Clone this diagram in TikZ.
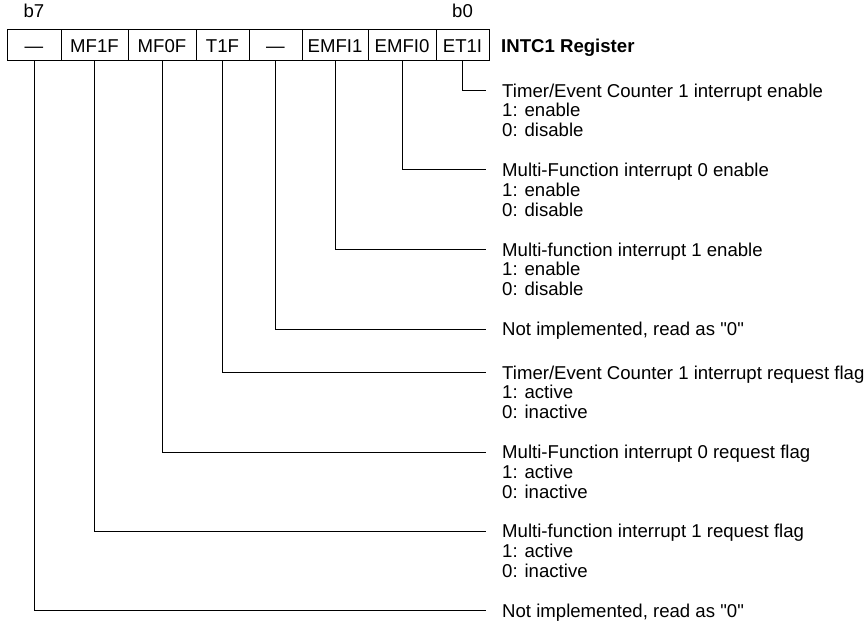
\documentclass[tikz,border=0pt]{standalone}
\usepackage{fontspec}
\setmainfont{Liberation Sans}
\begin{document}
\begin{tikzpicture}[x=1pt,y=-1pt,
  every node/.style={font=\fontsize{18.6}{19.7}\selectfont, inner sep=0pt},
  cell/.style={draw, line width=1pt, minimum height=31pt, text height=13.3pt, text depth=0pt, anchor=center},
  ttl/.style={anchor=west, text height=13.3pt, text depth=0pt},
  sub/.style={anchor=base west},
  conn/.style={line width=1pt}
]
\useasboundingbox (0,0) rectangle (868,623);
% register cells
\node[cell, minimum width=54pt] (c7) at (34,45.5) {---};
\node[cell, minimum width=67pt] (c6) at (94.5,45.5) {MF1F};
\node[cell, minimum width=68pt] (c5) at (162,45.5) {MF0F};
\node[cell, minimum width=53pt] (c4) at (222.5,45.5) {T1F};
\node[cell, minimum width=53pt] (c3) at (275.5,45.5) {---};
\node[cell, minimum width=66pt] (c2) at (335,45.5) {EMFI1};
\node[cell, minimum width=68pt] (c1) at (402,45.5) {EMFI0};
\node[cell, minimum width=53pt] (c0) at (462.5,45.5) {ET1I};
\node[anchor=base] (b7) at (34,18) {b7};
\node[anchor=base] (b0) at (462.5,18) {b0};
\node[anchor=west, text height=13.3pt, text depth=0pt] (reg) at (501,45.5) {\bfseries INTC1 Register};
% descriptions
\node[ttl] (t0) at (502,90.5) {Timer/Event Counter 1 interrupt enable};
\node[sub] (t0a) at ([yshift=-19.7pt]t0.base west) {1: enable};
\node[sub] (t0b) at ([yshift=-19.7pt]t0a.base west) {0: disable};
\node[ttl] (t1) at (502,170) {Multi-Function interrupt 0 enable};
\node[sub] (t1a) at ([yshift=-19.7pt]t1.base west) {1: enable};
\node[sub] (t1b) at ([yshift=-19.7pt]t1a.base west) {0: disable};
\node[ttl] (t2) at (502,249.5) {Multi-function interrupt 1 enable};
\node[sub] (t2a) at ([yshift=-19.7pt]t2.base west) {1: enable};
\node[sub] (t2b) at ([yshift=-19.7pt]t2a.base west) {0: disable};
\node[ttl] (t3) at (502,329) {Not implemented, read as \textquotedbl 0\textquotedbl};
\node[ttl] (t4) at (502,372.5) {Timer/Event Counter 1 interrupt request flag};
\node[sub] (t4a) at ([yshift=-19.7pt]t4.base west) {1: active};
\node[sub] (t4b) at ([yshift=-19.7pt]t4a.base west) {0: inactive};
\node[ttl] (t5) at (502,452) {Multi-Function interrupt 0 request flag};
\node[sub] (t5a) at ([yshift=-19.7pt]t5.base west) {1: active};
\node[sub] (t5b) at ([yshift=-19.7pt]t5a.base west) {0: inactive};
\node[ttl] (t6) at (502,531) {Multi-function interrupt 1 request flag};
\node[sub] (t6a) at ([yshift=-19.7pt]t6.base west) {1: active};
\node[sub] (t6b) at ([yshift=-19.7pt]t6a.base west) {0: inactive};
\node[ttl] (t7) at (502,610.5) {Not implemented, read as \textquotedbl 0\textquotedbl};
% connectors
\foreach \i in {0,...,7}{
  \draw[conn] (c\i.south) |- ([xshift=-16pt]t\i.west);
}
\end{tikzpicture}
\end{document}
